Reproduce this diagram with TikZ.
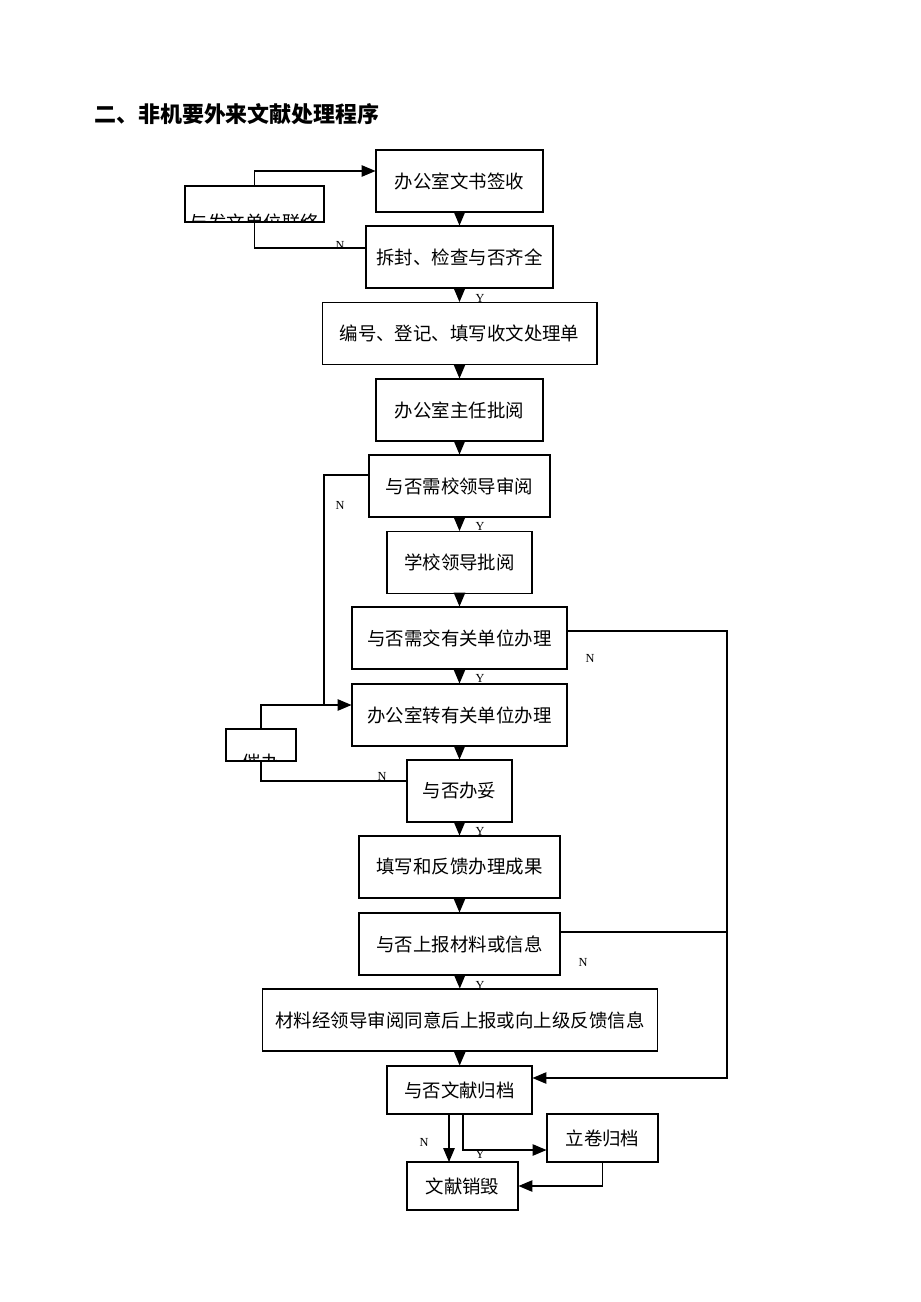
\documentclass[tikz,border=0pt]{standalone}
\usepackage{fontspec}
\setmainfont{Liberation Serif}
\newfontfamily\cjk{Noto Sans CJK SC}
\usetikzlibrary{arrows}

\begin{document}
\begin{tikzpicture}[x=0.02cm,y=-0.02cm,font=\cjk\fontsize{10.5}{12}\selectfont]
\tikzstyle box=[draw,line width=0.6pt,inner sep=0pt,minimum height=1.24cm]
\tikzstyle line=[line width=0.8pt]
\tikzstyle arr=[line width=0.8pt,->,>=triangle 45]
\tikzstyle yn=[font=\fontsize{7}{8}\selectfont,inner sep=0pt]
\useasboundingbox (0,0) rectangle (920,1302);

\node[anchor=west,font=\cjk\bfseries\fontsize{12.5}{14}\selectfont] (title) at (88,114) {二、非机要外来文献处理程序};

\node[box,minimum width=3.34cm] (qs) at (459.5,181) {办公室文书签收};
\node[box,minimum width=3.74cm] (cf) at (459.5,257) {拆封、检查与否齐全};
\node[box,minimum width=5.5cm] (bh) at (459.5,333.5) {编号、登记、填写收文处理单};
\node[box,minimum width=3.34cm] (zr) at (459.5,410) {办公室主任批阅};
\node[box,minimum width=3.62cm] (sy) at (459.5,486) {与否需校领导审阅};
\node[box,minimum width=2.9cm] (ld) at (459.5,562.5) {学校领导批阅};
\node[box,minimum width=4.3cm] (jb) at (459.5,638) {与否需交有关单位办理};
\node[box,minimum width=4.3cm] (zb) at (459.5,715) {办公室转有关单位办理};
\node[box,minimum width=2.1cm] (bt) at (459.5,791) {与否办妥};
\node[box,minimum width=4.02cm] (fk) at (459.5,867) {填写和反馈办理成果};
\node[box,minimum width=4.02cm] (sb) at (459.5,944) {与否上报材料或信息};
\node[box,minimum width=7.92cm] (cl) at (460,1020) {材料经领导审阅同意后上报或向上级反馈信息};
\node[box,minimum width=2.9cm,minimum height=0.96cm] (gd) at (459.5,1090) {与否文献归档};
\node[box,minimum width=2.22cm,minimum height=0.96cm] (lj) at (602.5,1138) {立卷归档};
\node[box,minimum width=2.22cm,minimum height=0.96cm] (xh) at (462.5,1186) {文献销毁};

% clipped side boxes
\node[box,minimum width=2.78cm,minimum height=0.72cm] (lx) at (254.5,204) {};
\begin{scope}
\clip (185,186) rectangle (324,222);
\node[anchor=north] at (254.5,208) {与发文单位联络};
\end{scope}
\node[box,minimum width=1.4cm,minimum height=0.64cm] (cb) at (261,745) {};
\begin{scope}
\clip (226,729) rectangle (296,761);
\node[anchor=north] at (261,748) {催办};
\end{scope}

\foreach \a/\b in {qs/cf,cf/bh,bh/zr,zr/sy,sy/ld,ld/jb,jb/zb,zb/bt,bt/fk,fk/sb,sb/cl,cl/gd}
  \draw[arr] (\a) -- (\b);

\draw[arr] (lx.north) |- (qs.west |- 0,171);
\draw[line] (cf.west |- 0,248) -| (lx.south);
\draw[arr] (sy.west |- 0,475) -| (324,705) -- (zb.west |- 0,705);
\draw[line] (cb.north) |- (324,705);
\draw[line] (bt.west |- 0,781) -| (cb.south);
\draw[arr] (jb.east |- 0,631) -| (727,1078) -- (gd.east |- 0,1078);
\draw[line] (sb.east |- 0,932) -- (727,932);
\draw[arr] (449,1114) -- (449,1162);
\draw[arr] (463,1114) |- (lj.west |- 0,1150);
\draw[arr] (lj.south) |- (xh.east);

\node[yn] at (340,245) {N};
\node[yn] at (340,505) {N};
\node[yn] at (382,776) {N};
\node[yn] at (590,658) {N};
\node[yn] at (583,962) {N};
\node[yn] at (424,1142) {N};
\foreach \y in {298,526,678,831,985,1154} \node[yn] at (480,\y) {Y};
\end{tikzpicture}
\end{document}
